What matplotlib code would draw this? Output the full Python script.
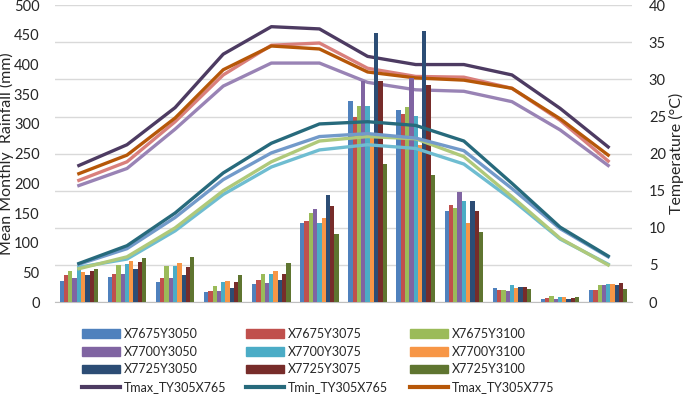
import numpy as np
import matplotlib
matplotlib.use("Agg")
import matplotlib.pyplot as plt
from matplotlib.patches import Patch
from matplotlib.lines import Line2D

plt.rcParams['font.family'] = ['Lato', 'DejaVu Sans']

months = ["Jan", "Feb", "Mar", "Apr", "May", "Jun",
          "Jul", "Aug", "Sep", "Oct", "Nov", "Dec"]

# monthly rainfall (mm) per grid point
rain_names = ["X7675Y3050", "X7675Y3075", "X7675Y3100",
              "X7700Y3050", "X7700Y3075", "X7700Y3100",
              "X7725Y3050", "X7725Y3075", "X7725Y3100"]
X7675Y3050 = [36, 43, 34, 17, 31, 133, 339, 324, 154, 23, 6, 21]
X7675Y3075 = [45, 47, 41, 19, 38, 136, 312, 317, 163, 20, 7.5, 21]
X7675Y3100 = [53, 62, 60, 27, 47, 150, 330, 329, 159, 20, 10, 28]
X7700Y3050 = [41, 47, 41, 18, 33, 157, 372, 378, 185, 18, 6, 28]
X7700Y3075 = [60, 65, 60, 34, 47, 133, 331, 313, 171, 28, 9, 30]
X7700Y3100 = [51, 69, 66, 36, 53, 142, 280, 265, 133, 23, 9, 30]
X7725Y3050 = [46, 56, 45, 24, 38, 180, 453, 457, 171, 25, 6, 29]
X7725Y3075 = [53, 67, 59, 34, 47, 162, 373, 365, 153, 26, 7.5, 32]
X7725Y3100 = [56, 74, 76, 46, 66, 115, 233, 214, 118, 22, 9, 22]
rain = [X7675Y3050, X7675Y3075, X7675Y3100,
        X7700Y3050, X7700Y3075, X7700Y3100,
        X7725Y3050, X7725Y3075, X7725Y3100]
rain_colors = ["#4F81BD", "#C0504D", "#9BBB59", "#8064A2", "#4BACC6",
               "#F79646", "#2C4D75", "#772C2A", "#5F7530"]

# temperature (deg C)
Tmax_TY305X765 = [18.4, 21.2, 26.2, 33.4, 37.1, 36.8, 33.1, 32.0, 32.0, 30.6, 26.1, 20.9]
Tmin_TY305X765 = [5.2, 7.6, 12.0, 17.4, 21.4, 24.0, 24.3, 23.8, 21.7, 16.0, 10.1, 6.2]
Tmax_TY305X775 = [17.3, 19.8, 24.8, 31.3, 34.5, 34.1, 31.0, 30.2, 29.9, 28.8, 24.7, 19.8]
Tmin_TY305X775 = [5.1, 7.2, 11.4, 16.5, 20.1, 22.3, 22.7, 22.1, 20.4, 15.3, 9.9, 6.1]
Tmax_TY307X765 = [16.4, 18.9, 24.3, 30.6, 34.6, 34.9, 31.5, 30.4, 30.3, 28.8, 24.5, 19.0]
Tmin_TY307X765 = [4.5, 6.1, 10.0, 15.0, 18.9, 21.7, 22.3, 22.0, 19.6, 14.2, 8.6, 5.0]
Tmax_TY307X775 = [15.7, 18.0, 23.3, 29.1, 32.2, 32.2, 29.6, 28.6, 28.4, 27.0, 23.2, 18.4]
Tmin_TY307X775 = [4.7, 5.8, 9.6, 14.5, 18.2, 20.5, 21.2, 20.7, 18.6, 13.8, 8.5, 5.1]

x = np.arange(len(months))

fig = plt.figure(figsize=(6.85, 3.97), dpi=100)
ax_t = fig.add_axes([0.080, 0.239, 0.843, 0.748])   # Tmax lines (under bars)
ax_r = ax_t.twinx()                                  # rainfall bars
ax_m = ax_t.twinx()                                  # Tmin lines (over bars)

for a in (ax_t, ax_r, ax_m):
    a.set_xlim(-0.5, 11.5)
    for s in a.spines.values():
        s.set_visible(False)

ax_t.set_ylim(0, 40)
ax_m.set_ylim(0, 40)
ax_r.set_ylim(0, 500)

# grid
ax_t.set_yticks(np.arange(0, 41, 5))
ax_t.grid(axis='y', color='#D9D9D9', lw=1)
ax_t.set_axisbelow(True)
ax_t.spines['bottom'].set_visible(True)
ax_t.spines['bottom'].set_color('#BFBFBF')

lw = 2.4
ax_t.plot(x, Tmax_TY307X775, color="#9983B5", lw=lw, zorder=3)
ax_t.plot(x, Tmax_TY307X765, color="#D97F7C", lw=lw, zorder=3)
ax_t.plot(x, Tmax_TY305X775, color="#B65708", lw=lw, zorder=3)
ax_t.plot(x, Tmax_TY305X765, color="#4D3B62", lw=lw, zorder=4)

width = 0.8 / len(rain)
for i, (vals, c) in enumerate(zip(rain, rain_colors)):
    ax_r.bar(x - 0.4 + width * (i + 0.5), vals, width, color=c, lw=0)

ax_m.plot(x, Tmin_TY307X775, color="#6FBDD1", lw=lw)
ax_m.plot(x, Tmin_TY307X765, color="#AFC97A", lw=lw)
ax_m.plot(x, Tmin_TY305X775, color="#729ACA", lw=lw)
ax_m.plot(x, Tmin_TY305X765, color="#276A7C", lw=lw)
ax_m.set_yticks([])

# axes ticks / labels
tick_color = '#262626'
ax_r.yaxis.tick_left()
ax_r.yaxis.set_label_position('left')
ax_r.set_yticks(np.arange(0, 501, 50))
ax_r.tick_params(axis='y', length=0, pad=11, labelsize=10.5, colors=tick_color)
ax_r.set_ylabel("Mean Monthly  Rainfall (mm)", fontsize=11.5, color=tick_color)
ax_r.yaxis.set_label_coords(-0.071, 0.5)

ax_t.yaxis.tick_right()
ax_t.yaxis.set_label_position('right')
ax_t.tick_params(axis='y', length=0, pad=12, labelsize=10.5, colors=tick_color)
ax_t.set_ylabel("Temperature (°C)", fontsize=11.5, color=tick_color)
ax_t.yaxis.set_label_coords(1.063, 0.5)

ax_t.set_xticks(x)
ax_t.set_xticklabels(months)
ax_t.tick_params(axis='x', length=0, pad=9, labelsize=10.5, colors=tick_color)
ax_r.set_xticks([])
ax_m.set_xticks([])

handles = [Patch(color=c) for c in rain_colors] + [
    Line2D([], [], color="#4D3B62", lw=3),
    Line2D([], [], color="#276A7C", lw=3),
    Line2D([], [], color="#B65708", lw=3)]
labels = rain_names + ["Tmax_TY305X765", "Tmin_TY305X765", "Tmax_TY305X775"]

# one legend per column, placed like the reference
col_x = [82, 246, 410]
for col in range(3):
    idx = [col, col + 3, col + 6, col + 9]
    fig.legend([handles[i] for i in idx], [labels[i] for i in idx],
               loc='upper left', bbox_to_anchor=(col_x[col] / 685, 1 - 328 / 397),
               ncol=1, frameon=False, fontsize=9, borderpad=0, borderaxespad=0,
               handlelength=3.0, handletextpad=0.35,
               labelspacing=0.45, labelcolor=tick_color)

fig.savefig("out.png", dpi=100)
